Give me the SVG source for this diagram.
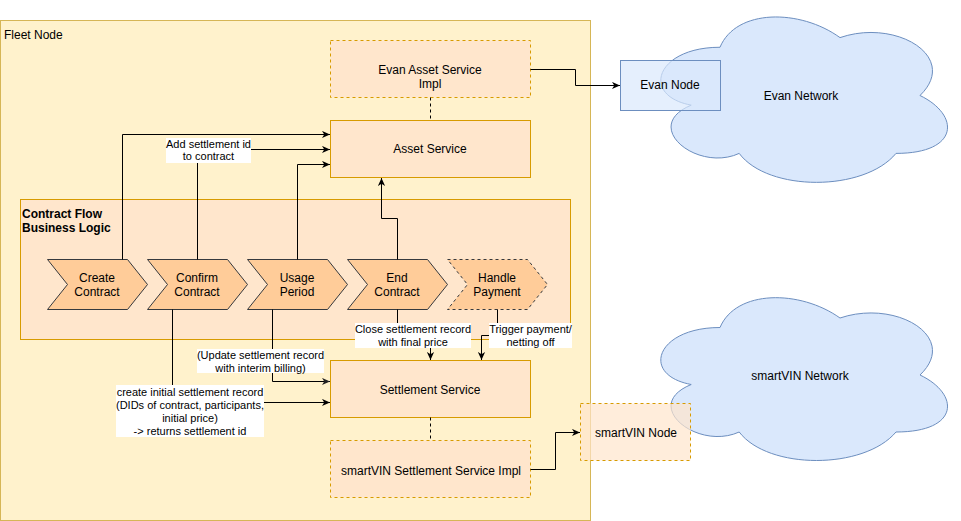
<svg xmlns="http://www.w3.org/2000/svg" width="961" height="521" viewBox="0 0 961 521">
<defs>
<style>
text{font-family:"Liberation Sans",Arial,sans-serif;font-size:12px;fill:#000;text-anchor:middle}
.lbl{font-size:11px}
.cont{fill:#fff2cc;stroke:#d6b656}
.svc{fill:#ffe6cc;stroke:#d79b00}
.dash{stroke-dasharray:3 3}
.step{fill:#ffcc99;stroke:#36393d}
.cloud{fill:#dae8fc;stroke:#6c8ebf}
.edge{fill:none;stroke:#000;stroke-width:1}
.arr{marker-end:url(#ah)}
.bg{fill:#fff}
</style>
<marker id="ah" markerUnits="userSpaceOnUse" viewBox="0 0 10 10" markerWidth="8" markerHeight="8" refX="10" refY="5" orient="auto">
<path d="M0,0.5 L10,5 L0,9.5 L2.8,5 Z" fill="#000"/>
</marker>
<marker id="ahg" markerUnits="userSpaceOnUse" viewBox="0 0 10 10" markerWidth="8" markerHeight="8" refX="10" refY="5" orient="auto">
<path d="M0,0.5 L10,5 L0,9.5 L2.8,5 Z" fill="#222"/>
</marker>
</defs>

<g id="fleet-node">
<rect class="cont" x="0.5" y="20.5" width="590" height="500"/>
<text x="4" y="39" style="text-anchor:start">Fleet Node</text>
</g>

<g id="evan-network">
<path class="cloud" d="M720,47.25 C656,47.25 640,95.5 691.2,105.15 C640,126.38 697.6,172.7 739.2,153.4 C768,192 864,192 896,153.4 C960,153.4 960,114.8 920,95.5 C960,56.9 896,18.3 840,37.6 C800,8.65 736,8.65 720,47.25 Z"/>
<text x="801" y="100">Evan Network</text>
</g>

<g id="smartvin-network">
<path class="cloud" d="M720,327.5 C656,327.5 640,375 691.2,384.5 C640,405.4 697.6,451 739.2,432 C768,470 864,470 896,432 C960,432 960,394 920,375 C960,337 896,299 840,318 C800,289.5 736,289.5 720,327.5 Z"/>
<text x="800" y="380">smartVIN Network</text>
</g>

<g id="evan-node">
<rect x="620.5" y="60.5" width="100" height="50" fill="#dae8fc" fill-opacity="0.7" stroke="#6c8ebf"/>
<text x="670" y="89">Evan Node</text>
</g>

<g id="smartvin-node">
<rect class="svc dash" x="580.5" y="403.5" width="110" height="57" fill-opacity="0.7"/>
<text x="636" y="437">smartVIN Node</text>
</g>

<g id="evan-asset-service-impl">
<rect class="svc dash" x="330.5" y="40.5" width="200" height="57"/>
<text x="430" y="73.5">Evan Asset Service</text>
<text x="430" y="87.5">Impl</text>
</g>

<g id="asset-service">
<rect class="svc" x="330.5" y="120.5" width="200" height="57"/>
<text x="430" y="153">Asset Service</text>
</g>

<g id="settlement-service">
<rect class="svc" x="330.5" y="360.5" width="200" height="57"/>
<text x="430" y="393.5">Settlement Service</text>
</g>

<g id="smartvin-settlement-service-impl">
<rect class="svc dash" x="330.5" y="440.5" width="200" height="57"/>
<text x="431" y="475">smartVIN Settlement Service Impl</text>
</g>

<g id="contract-flow">
<rect class="svc" x="20.5" y="199.5" width="550" height="140"/>
<text x="22" y="218" style="text-anchor:start;font-weight:bold">Contract Flow</text>
<text x="22" y="231.5" style="text-anchor:start;font-weight:bold">Business Logic</text>
</g>

<g id="create-contract">
<path class="step" d="M47.5,259.5 H127.5 L147.5,284.5 L127.5,309.5 H47.5 L67.5,284.5 Z"/>
<text x="97" y="281.5">Create</text>
<text x="97" y="295.5">Contract</text>
</g>
<g id="confirm-contract">
<path class="step" d="M147.5,259.5 H227.5 L247.5,284.5 L227.5,309.5 H147.5 L167.5,284.5 Z"/>
<text x="197" y="281.5">Confirm</text>
<text x="197" y="295.5">Contract</text>
</g>
<g id="usage-period">
<path class="step" d="M247.5,259.5 H327.5 L347.5,284.5 L327.5,309.5 H247.5 L267.5,284.5 Z"/>
<text x="297" y="281.5">Usage</text>
<text x="297" y="295.5">Period</text>
</g>
<g id="end-contract">
<path class="step" d="M347.5,259.5 H427.5 L447.5,284.5 L427.5,309.5 H347.5 L367.5,284.5 Z"/>
<text x="397" y="281.5">End</text>
<text x="397" y="295.5">Contract</text>
</g>
<g id="handle-payment">
<path class="step dash" d="M447.5,259.5 H527.5 L547.5,284.5 L527.5,309.5 H447.5 L467.5,284.5 Z"/>
<text x="497" y="281.5">Handle</text>
<text x="497" y="295.5">Payment</text>
</g>

<g id="connectors">
<path class="edge arr" d="M530.5,69.5 H575.5 V85.5 H620"/>
<path class="edge" d="M430.5,97.5 V120.5" stroke-dasharray="3 3"/>
<path class="edge" d="M430.5,417.5 V440.5" stroke-dasharray="3 3"/>
<path class="edge arr" d="M530.5,469.5 H555.5 V432.5 H580"/>

<path class="edge arr" d="M122.5,259.5 V134.5 H330"/>
<path class="edge arr" d="M197.5,259.5 V149.5 H330"/>
<path class="edge arr" d="M297.5,259.5 V164.5 H330"/>
<path class="edge arr" d="M397.5,259.5 V218.5 H381.5 V178"/>

<path class="edge arr" d="M172.5,309.5 V402.5 H330"/>
<path class="edge" d="M272.5,309.5 V381.5 H330" stroke="#444" stroke-width="0.8" marker-end="url(#ahg)"/>
<path class="edge arr" d="M397.5,309.5 V335.5 H430.5 V360"/>
<path class="edge arr" d="M497.5,309.5 V335.5 H481.5 V360"/>

<g id="label-add-settlement-id">
<rect class="bg" x="166" y="138" width="85" height="25"/>
<text class="lbl" x="208.5" y="147.5">Add settlement id</text>
<text class="lbl" x="208.5" y="160">to contract</text>
</g>
<g id="label-update-settlement">
<rect class="bg" x="197" y="349" width="127" height="24"/>
<text class="lbl" x="260.5" y="359">(Update settlement record</text>
<text class="lbl" x="260.5" y="371.5">with interim billing)</text>
</g>
<g id="label-create-settlement">
<rect class="bg" x="116" y="385" width="148" height="52"/>
<text class="lbl" x="190" y="395.5">create initial settlement record</text>
<text class="lbl" x="190" y="408.5">(DIDs of contract, participants,</text>
<text class="lbl" x="190" y="421.5">initial price)</text>
<text class="lbl" x="190" y="434.5">-&gt; returns settlement id</text>
</g>
<g id="label-close-settlement">
<rect class="bg" x="355" y="323" width="116" height="25"/>
<text class="lbl" x="413" y="333">Close settlement record</text>
<text class="lbl" x="413" y="345.5">with final price</text>
</g>
<g id="label-trigger-payment">
<rect class="bg" x="489" y="323" width="83" height="25"/>
<text class="lbl" x="530.5" y="333">Trigger payment/</text>
<text class="lbl" x="530.5" y="345.5">netting off</text>
</g>
</g>
</svg>
